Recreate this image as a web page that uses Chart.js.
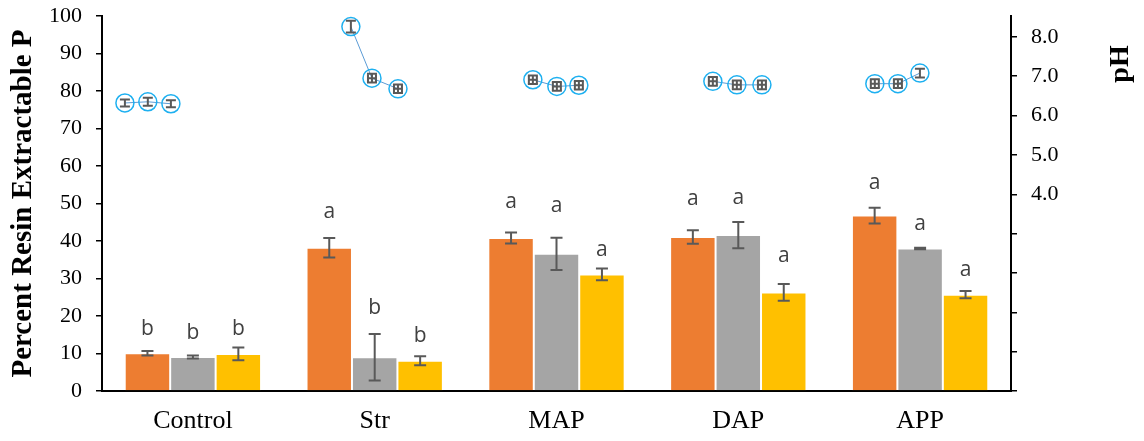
<!DOCTYPE html>
<html>
<head>
<meta charset="utf-8">
<script src="https://cdn.jsdelivr.net/npm/chart.js@4"></script>
<style>
  html, body { margin: 0; padding: 0; background: #fff; }
  #wrap { width: 1144px; height: 441px; position: relative; }
</style>
</head>
<body>
<div id="wrap"><canvas id="myChart"></canvas></div>
<script>
// categories and bar values (Percent Resin Extractable P)
const categories = ['Control', 'Str', 'MAP', 'DAP', 'APP'];

const orangeValues = [10.1, 38.2, 40.8, 41.1, 46.8];
const orangeErr    = [0.6, 2.6, 1.45, 1.8, 2.1];
const greyValues   = [9.1, 9.0, 36.6, 41.6, 38.0];
const greyErr      = [0.4, 6.2, 4.3, 3.5, 0.2];
const yellowValues = [9.9, 8.1, 31.1, 26.3, 25.7];
const yellowErr    = [1.7, 1.2, 1.55, 2.25, 0.95];

// significance letters and the value height they sit at
const orangeLetters = ['b', 'a', 'a', 'a', 'a'];
const greyLetters   = ['b', 'b', 'a', 'a', 'a'];
const yellowLetters = ['b', 'b', 'a', 'a', 'a'];
const orangeLetterAt = [16.5, 47.7, 50.3, 51.1, 55.5];
const greyLetterAt   = [15.4, 22.2, 49.3, 51.4, 44.5];
const yellowLetterAt = [16.5, 14.7, 37.6, 36.0, 32.3];

// pH series (x in category units, 0 = Control), three points per treatment
const phX = [-0.374, -0.248, -0.121,
             0.869, 0.985, 1.128,
             1.870, 2.002, 2.123,
             2.860, 2.992, 3.130,
             3.751, 3.878, 3.999];
const phValues = [6.32, 6.35, 6.30,
                  8.26, 6.95, 6.68,
                  6.91, 6.74, 6.77,
                  6.87, 6.78, 6.78,
                  6.81, 6.81, 7.08];
const phErr = [0.09, 0.10, 0.09,
               0.15, 0.11, 0.11,
               0.11, 0.11, 0.11,
               0.11, 0.11, 0.11,
               0.11, 0.11, 0.11];
// horizontal error of the pH markers, in category units
const phXErr = [0, 0, 0,
                0, 0.022, 0.022,
                0.022, 0.022, 0.022,
                0.022, 0.022, 0.022,
                0.022, 0.022, 0];

const serif = "'Liberation Serif', 'Times New Roman', serif";

const barSets = [
    { values: orangeValues, err: orangeErr, letters: orangeLetters, at: orangeLetterAt },
    { values: greyValues, err: greyErr, letters: greyLetters, at: greyLetterAt },
    { values: yellowValues, err: yellowErr, letters: yellowLetters, at: yellowLetterAt }
];

function drawErr(ctx, x, yTop, yBot, cap)
{
    ctx.beginPath();
    ctx.moveTo(x, yTop); ctx.lineTo(x, yBot);
    ctx.moveTo(x - cap, yTop); ctx.lineTo(x + cap, yTop);
    ctx.moveTo(x - cap, yBot); ctx.lineTo(x + cap, yBot);
    ctx.stroke();
}

function drawErrX(ctx, y, xLeft, xRight, cap)
{
    ctx.beginPath();
    ctx.moveTo(xLeft, y); ctx.lineTo(xRight, y);
    ctx.moveTo(xLeft, y - cap); ctx.lineTo(xLeft, y + cap);
    ctx.moveTo(xRight, y - cap); ctx.lineTo(xRight, y + cap);
    ctx.stroke();
}

const extrasPlugin = {
    id: 'extras',
    afterDatasetsDraw(chart) {
        const ctx = chart.ctx;
        const x = chart.scales.x;
        const y = chart.scales.y;
        const y2 = chart.scales.y2;
        ctx.save();
        ctx.strokeStyle = '#595959';
        ctx.lineWidth = 2;
        barSets.forEach((set, di) => {
            const meta = chart.getDatasetMeta(di);
            meta.data.forEach((bar, i) => {
                drawErr(ctx, bar.x, y.getPixelForValue(set.values[i] + set.err[i]),
                        y.getPixelForValue(set.values[i] - set.err[i]), 6);
            });
        });

        // pH error bars
        ctx.lineWidth = 2;
        phValues.forEach((v, i) => {
            const px = x.getPixelForValue(phX[i]);
            const py = y2.getPixelForValue(v);
            drawErr(ctx, px, y2.getPixelForValue(v + phErr[i]), y2.getPixelForValue(v - phErr[i]), 5);
            if (phXErr[i] > 0)
                drawErrX(ctx, py, x.getPixelForValue(phX[i] - phXErr[i]), x.getPixelForValue(phX[i] + phXErr[i]), 4);
        });

        // letters
        ctx.fillStyle = '#404040';
        ctx.font = "21px 'Open Sans', sans-serif";
        ctx.textAlign = 'center';
        ctx.textBaseline = 'middle';
        barSets.forEach((set, di) => {
            const meta = chart.getDatasetMeta(di);
            meta.data.forEach((bar, i) => {
                ctx.fillText(set.letters[i], bar.x, y.getPixelForValue(set.at[i]));
            });
        });
        ctx.restore();
    },
    afterDraw(chart) {
        const ctx = chart.ctx;
        const area = chart.chartArea;
        ctx.save();
        ctx.fillStyle = '#000';
        ctx.font = 'bold 29px ' + serif;
        ctx.textAlign = 'center';
        ctx.textBaseline = 'middle';
        ctx.translate(24, (area.top + area.bottom) / 2);
        ctx.rotate(-Math.PI / 2);
        ctx.fillText('Percent Resin Extractable P', 0, 0);
        ctx.restore();

        ctx.save();
        ctx.fillStyle = '#000';
        ctx.font = 'bold 28px ' + serif;
        ctx.textAlign = 'center';
        ctx.textBaseline = 'middle';
        ctx.translate(area.right + 110, area.top + 48);
        ctx.rotate(-Math.PI / 2);
        ctx.fillText('pH', 0, 0);
        ctx.restore();
    }
};

// only join the three pH points of the same treatment
const sameGroup = (c) => Math.floor(c.p0DataIndex / 3) === Math.floor(c.p1DataIndex / 3);

let config = {
    type: 'bar',
    data: {
        labels: categories,
        datasets: [
            { type: 'bar', data: orangeValues, backgroundColor: '#ED7D31', borderColor: 'rgba(255,255,255,0.45)', borderWidth: 1, order: 1 },
            { type: 'bar', data: greyValues, backgroundColor: '#A5A5A5', borderColor: 'rgba(255,255,255,0.45)', borderWidth: 1, order: 1 },
            { type: 'bar', data: yellowValues, backgroundColor: '#FFC000', borderColor: 'rgba(255,255,255,0.45)', borderWidth: 1, order: 1 },
            {
                type: 'line',
                parsing: false,
                normalized: true,
                data: phX.map((px, i) => ({ x: px, y: phValues[i] })),
                yAxisID: 'y2',
                borderColor: '#5B9BD5',
                borderWidth: 1,
                segment: {
                    borderColor: (c) => (sameGroup(c) ? '#5B9BD5' : 'rgba(0,0,0,0)')
                },
                pointRadius: 9,
                pointBorderWidth: 1.5,
                pointBorderColor: '#1EB0F0',
                pointBackgroundColor: 'rgba(255,255,255,0)',
                tension: 0,
                order: 0
            }
        ]
    },
    options: {
        responsive: true,
        maintainAspectRatio: false,
        animation: false,
        layout: { padding: { top: 16, left: 0, right: 0, bottom: 0 } },
        datasets: {
            bar: { categoryPercentage: 0.75, barPercentage: 1.0 }
        },
        plugins: {
            legend: { display: false },
            tooltip: { enabled: false }
        },
        scales: {
            x: {
                type: 'category',
                offset: true,
                grid: { display: false, drawTicks: false },
                border: { color: '#000', width: 2 },
                ticks: { color: '#000', font: { family: serif, size: 26 }, padding: 15 },
                afterFit: (scale) => { scale.height = 50; }
            },
            y: {
                position: 'left',
                min: 0,
                max: 100,
                ticks: { stepSize: 10, color: '#000', font: { family: serif, size: 22 }, padding: 14 },
                grid: { drawOnChartArea: false, color: '#000', tickLength: 6, lineWidth: 1.5 },
                border: { color: '#000', width: 2 },
                afterFit: (scale) => { scale.width = 102; scale.paddingTop = 0; }
            },
            y2: {
                position: 'right',
                min: -1,
                max: 8.53,
                ticks: {
                    stepSize: 1,
                    includeBounds: false,
                    color: '#000',
                    font: { family: serif, size: 22 },
                    padding: 14,
                    callback: (v) => (v >= 4 ? v.toFixed(1) : '')
                },
                grid: { drawOnChartArea: false, color: '#000', tickLength: 6, lineWidth: 1.5 },
                border: { color: '#000', width: 2 },
                afterFit: (scale) => { scale.width = 133; scale.paddingTop = 0; }
            }
        }
    },
    plugins: [extrasPlugin]
};

const chart = new Chart(document.getElementById('myChart'), config);
</script>
</body>
</html>
